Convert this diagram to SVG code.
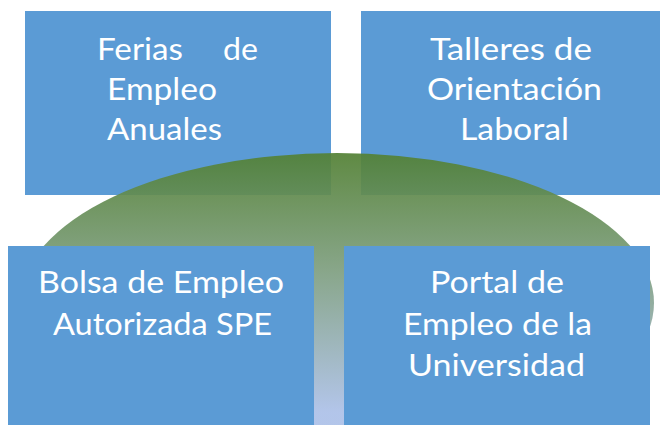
<svg xmlns="http://www.w3.org/2000/svg" width="660" height="425" viewBox="0 0 660 425">
<style>
.box{fill:#5b9bd5}
.t{font-family:Lato,"Open Sans","Liberation Sans",sans-serif;font-size:31px;fill:#ffffff}
</style>
<defs>
<linearGradient id="g" gradientUnits="userSpaceOnUse" x1="0" y1="153" x2="0" y2="412">
<stop offset="0" stop-color="#538135"/>
<stop offset="0.45" stop-color="#7f9f80"/>
<stop offset="1" stop-color="#adc1e8"/>
</linearGradient>
</defs>
<rect width="660" height="425" fill="#ffffff"/>
<g id="node-ferias">
<rect class="box" x="25" y="11" width="306" height="184"/>
<text class="t" x="97" y="60" textLength="86" lengthAdjust="spacingAndGlyphs">Ferias</text>
<text class="t" x="223" y="60" textLength="35" lengthAdjust="spacingAndGlyphs">de</text>
<text class="t" x="107" y="100" textLength="110" lengthAdjust="spacingAndGlyphs">Empleo</text>
<text class="t" x="107" y="140" textLength="115" lengthAdjust="spacingAndGlyphs">Anuales</text>
</g>
<g id="node-talleres">
<rect class="box" x="361" y="11" width="299" height="184"/>
<text class="t" x="430" y="60" textLength="162" lengthAdjust="spacingAndGlyphs">Talleres de</text>
<text class="t" x="427" y="100" textLength="175" lengthAdjust="spacingAndGlyphs">Orientación</text>
<text class="t" x="460" y="140" textLength="109" lengthAdjust="spacingAndGlyphs">Laboral</text>
</g>
<ellipse id="base" cx="337" cy="303" rx="317" ry="150" fill="url(#g)" opacity="0.93"/>
<g id="node-bolsa">
<rect class="box" x="8" y="246" width="306" height="179"/>
<text class="t" x="38" y="293" textLength="246" lengthAdjust="spacingAndGlyphs">Bolsa de Empleo</text>
<text class="t" x="53" y="335" textLength="219" lengthAdjust="spacingAndGlyphs">Autorizada SPE</text>
</g>
<g id="node-portal">
<rect class="box" x="344" y="246" width="306" height="179"/>
<text class="t" x="430" y="293" textLength="134" lengthAdjust="spacingAndGlyphs">Portal de</text>
<text class="t" x="403" y="335" textLength="189" lengthAdjust="spacingAndGlyphs">Empleo de la</text>
<text class="t" x="408" y="376" textLength="177" lengthAdjust="spacingAndGlyphs">Universidad</text>
</g>
<g id="connectors"/>
</svg>
